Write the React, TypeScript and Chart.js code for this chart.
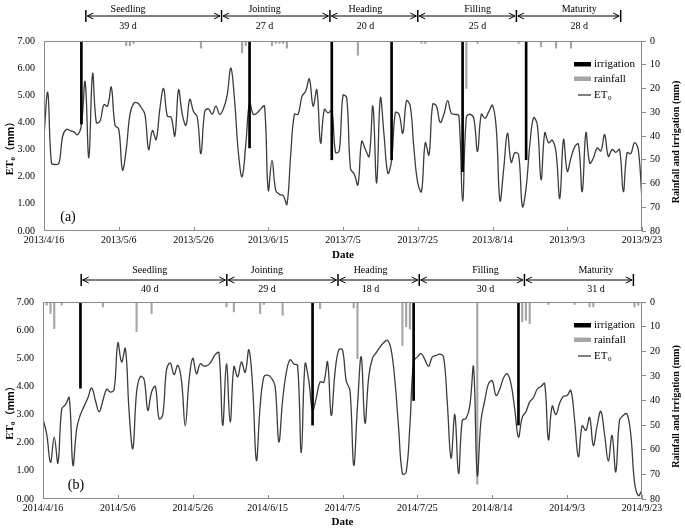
import React, { useEffect, useRef } from "react";
import { Chart, registerables } from "chart.js";

Chart.register(...registerables);

const FONT = "'Liberation Serif', 'Times New Roman', 'DejaVu Serif', 'Noto Sans CJK SC', serif";

// ---------- Panel (a) : 2013 ----------
const dateTicks2013 = ["2013/4/16", "2013/5/6", "2013/5/26", "2013/6/15", "2013/7/5", "2013/7/25", "2013/8/14", "2013/9/3", "2013/9/23"];
const et0_2013 = [
  3.5, 5.1, 2.5, 2.45, 2.5, 3.5, 3.75, 3.7, 3.65, 3.55,
  3.9, 5.5, 2.7, 5.8, 4.0, 4.05, 4.65, 4.6, 5.3, 3.9,
  3.75, 2.25, 3.0, 4.3, 4.7, 4.72, 4.55, 4.3, 3.0, 3.7,
  3.37, 4.5, 5.25, 4.23, 4.2, 3.5, 5.2, 4.3, 3.9, 4.85,
  4.4, 4.2, 2.85, 4.4, 4.5, 4.3, 4.6, 4.3, 4.5, 5.0,
  6.0, 4.8, 2.9, 2.0, 3.2, 4.73, 4.3, 4.35, 4.5, 4.6,
  1.5, 2.6, 1.5, 1.35, 1.3, 0.98, 2.8, 4.3, 4.3, 4.95,
  5.15, 5.6, 4.6, 5.2, 3.24, 4.48, 4.35, 4.45, 2.9, 2.95,
  5.0, 4.9, 2.3, 2.1, 1.7, 3.3, 3.0, 2.75, 4.6, 1.77,
  4.9, 3.5, 2.13, 2.6, 4.36, 4.3, 3.6, 4.8, 4.6, 3.0,
  1.77, 1.45, 3.25, 2.8, 4.67, 4.6, 4.0, 4.3, 4.8, 4.33,
  4.3, 4.25, 1.1, 4.2, 4.3, 4.15, 2.93, 4.3, 4.15, 4.4,
  4.63, 3.8, 1.12, 2.3, 3.6, 2.53, 2.88, 2.8, 0.9, 1.6,
  3.2, 4.17, 3.9, 1.89, 3.62, 3.25, 3.35, 2.9, 1.2, 3.37,
  2.2, 2.7, 3.1, 3.2, 1.45, 3.62, 2.5, 2.69, 3.06, 2.95,
  3.55, 2.75, 3.0, 2.9, 3.0, 1.45, 2.88, 2.85, 3.25, 3.0,
  1.15,
];
const irrigationDay2013 = [10, 55, 77, 93, 112, 129];
const irrigationMm2013 = [35, 45, 50, 50, 55, 50];
const rainDay2013 = [22, 23, 24, 42, 53, 54, 61, 62, 63, 64, 65, 84, 101, 102, 113, 116, 127, 133, 137, 141];
const rainMm2013 = [2, 2, 1, 3, 5, 2, 2, 1, 1, 1, 3, 6, 1, 1, 20, 1, 1, 2.5, 3, 3];
const stageBound2013 = [11.2, 47.5, 76.5, 100, 126.4, 154.3];
const stageLength2013 = ["39 d", "27 d", "20 d", "25 d", "28 d"];
const stageLabelDay2013 = [22.5, 59, 86, 116, 143.2];

// ---------- Panel (b) : 2014 ----------
const dateTicks2014 = ["2014/4/16", "2014/5/6", "2014/5/26", "2014/6/15", "2014/7/5", "2014/7/25", "2014/8/14", "2014/9/3", "2014/9/23"];
const et0_2014 = [
  2.85, 2.3, 1.3, 2.2, 1.28, 3.2, 3.35, 3.6, 1.2, 2.5,
  3.0, 3.3, 3.6, 3.95, 3.5, 3.1, 3.5, 3.9, 3.8, 3.9,
  5.55, 4.87, 5.35, 3.1, 1.79, 3.8, 4.35, 4.25, 3.15, 3.8,
  4.0, 2.85, 3.0, 4.6, 4.83, 4.42, 4.75, 4.2, 2.6, 4.2,
  5.0, 4.45, 4.8, 4.72, 4.75, 4.9, 5.13, 5.2, 2.62, 4.8,
  2.74, 4.7, 4.34, 4.87, 4.5, 5.3, 4.0, 1.37, 3.3, 4.34,
  4.4, 4.3, 4.0, 2.03, 3.5, 4.5, 4.95, 4.8, 4.75, 1.65,
  4.8, 4.2, 3.15, 3.6, 4.16, 4.15, 4.87, 2.97, 4.5, 5.3,
  5.3, 4.2, 3.85, 1.2, 3.3, 5.05, 2.7, 4.34, 5.0, 5.2,
  5.4, 5.55, 5.64, 5.3, 4.2, 2.5, 0.9, 0.95, 2.6, 4.9,
  5.05, 5.17, 4.95, 4.72, 5.05, 5.1, 5.15, 5.05, 3.4, 1.45,
  3.0, 0.9, 2.8, 2.86, 3.3, 4.69, 0.84, 2.8, 3.5, 4.1,
  4.2, 3.68, 3.9, 4.3, 4.45, 4.1, 3.2, 2.2, 2.9, 3.1,
  3.45, 3.6, 3.9, 4.0, 4.1, 2.1, 3.3, 3.0, 3.4, 3.65,
  3.68, 3.86, 2.8, 1.5, 2.6, 2.44, 2.9, 1.9, 2.6, 3.12,
  2.3, 1.35, 2.26, 0.96, 2.8, 2.97, 3.03, 2.3, 0.6, 0.12,
  0.3,
];
const irrigationDay2014 = [10, 72, 99, 127];
const irrigationMm2014 = [35, 50, 40, 50];
const rainDay2014 = [0, 1, 2, 3, 5, 16, 25, 29, 49, 51, 58, 59, 64, 74, 83, 84, 96, 97, 98, 116, 128, 129, 130, 135, 142, 146, 147, 158, 159];
const rainMm2014 = [15.5, 1.3, 4.7, 10.8, 1.3, 2, 12, 4.7, 2, 4, 4.7, 1, 5.4, 2.7, 2.4, 23, 17.6, 10, 11, 74, 8, 7.4, 8.8, 1, 1, 2, 2, 2, 1.3];
const stageBound2014 = [10.2, 49.1, 78.8, 100.5, 128.6, 157.7];
const stageLength2014 = ["40 d", "29 d", "18 d", "30 d", "31 d"];
const stageLabelDay2014 = [28.5, 59.8, 87.5, 118.2, 147.7];

const stageName = ["Seedling", "Jointing", "Heading", "Filling", "Maturity"];

type Panel = {
  tag: string;
  ticks: string[];
  et0: number[];
  irrDay: number[];
  irrMm: number[];
  rainDay: number[];
  rainMm: number[];
  bounds: number[];
  lengths: string[];
  labelDays: number[];
  height: number;
  padTop: number;
  xHeight: number;
  leftW: number;
  datePad: number;
  arrowOff: number;
  countOff: number;
  tagDx: number;
};

const panelA: Panel = {
  tag: "(a)", ticks: dateTicks2013, et0: et0_2013,
  irrDay: irrigationDay2013, irrMm: irrigationMm2013, rainDay: rainDay2013, rainMm: rainMm2013,
  bounds: stageBound2013, lengths: stageLength2013, labelDays: stageLabelDay2013,
  height: 264, padTop: 41, xHeight: 33, leftW: 44, datePad: 2, arrowOff: 25, countOff: 15, tagDx: 24,
};
const panelB: Panel = {
  tag: "(b)", ticks: dateTicks2014, et0: et0_2014,
  irrDay: irrigationDay2014, irrMm: irrigationMm2014, rainDay: rainDay2014, rainMm: rainMm2014,
  bounds: stageBound2014, lengths: stageLength2014, labelDays: stageLabelDay2014,
  height: 265, padTop: 38, xHeight: 30, leftW: 43, datePad: 0, arrowOff: 22, countOff: 12.5, tagDx: 33,
};

const GREY = "#8a8a8a";

function decoPlugin(p: Panel) {
  return {
    id: "deco" + p.tag,
    afterDraw(chart: any) {
      const { ctx, chartArea: a, scales } = chart;
      const xs = scales.x;
      ctx.save();
      // frame
      ctx.strokeStyle = GREY;
      ctx.lineWidth = 1;
      ctx.strokeRect(Math.round(a.left) + 0.5, Math.round(a.top) + 0.5, Math.round(a.right - a.left) - 1, Math.round(a.bottom - a.top) - 1);
      // inward x ticks
      for (const t of xs.ticks) {
        const px = Math.round(xs.getPixelForValue(t.value)) + 0.5;
        ctx.beginPath();
        ctx.moveTo(px, a.bottom);
        ctx.lineTo(px, a.bottom - 4);
        ctx.stroke();
      }
      const midY = (a.top + a.bottom) / 2;
      ctx.fillStyle = "#000";
      ctx.textBaseline = "middle";

      // left axis title ET0 (mm), reads bottom-to-top
      ctx.save();
      ctx.translate(10, midY + 10);
      ctx.rotate(-Math.PI / 2);
      const f1 = `bold 11px ${FONT}`;
      const f2 = `bold 7px ${FONT}`;
      const f3 = `bold 10px 'Noto Sans CJK SC', ${FONT}`;
      ctx.font = f1;
      const wET = ctx.measureText("ET").width;
      ctx.font = f2;
      const w0 = ctx.measureText("0").width;
      ctx.font = f3;
      const wMM = ctx.measureText("（mm）").width;
      let cx = -(wET + w0 + 1 + wMM) / 2;
      ctx.textAlign = "left";
      ctx.font = f1;
      ctx.fillText("ET", cx, 0);
      cx += wET;
      ctx.font = f2;
      ctx.fillText("0", cx, 3);
      cx += w0 + 1;
      ctx.font = f3;
      ctx.fillText("（mm）", cx, 0);
      ctx.restore();

      // right axis title (reads bottom-to-top)
      ctx.font = `bold 10px ${FONT}`;
      ctx.textAlign = "center";
      ctx.save();
      ctx.translate(chart.width - 9, midY + 6);
      ctx.rotate(-Math.PI / 2);
      ctx.fillText("Rainfall and irrigation (mm)", 0, 0);
      ctx.restore();

      // legend
      const sx = a.right - 68;
      const sw = 17;
      const tx = a.right - 48;
      const rows = [
        { kind: "bar", color: "#000", label: "irrigation", dy: 23.5 },
        { kind: "bar", color: "#a6a6a6", label: "rainfall", dy: 38 },
        { kind: "line", color: "#3c3c3c", label: "ET", dy: 54 },
      ];
      ctx.textAlign = "left";
      for (const r of rows) {
        const y = a.top + r.dy;
        if (r.kind === "bar") {
          ctx.fillStyle = r.color;
          ctx.fillRect(sx, y - 2.5, sw, 4.5);
        } else {
          ctx.strokeStyle = r.color;
          ctx.lineWidth = 1.3;
          ctx.beginPath();
          ctx.moveTo(sx + 4, y);
          ctx.lineTo(sx + sw, y);
          ctx.stroke();
        }
        ctx.fillStyle = "#000";
        ctx.font = `11px ${FONT}`;
        ctx.fillText(r.label, tx, y);
        if (r.kind === "line") {
          const w = ctx.measureText(r.label).width;
          ctx.font = `7px ${FONT}`;
          ctx.fillText("0", tx + w + 0.5, y + 3);
        }
      }

      // panel tag
      ctx.font = `14px ${FONT}`;
      ctx.textAlign = "center";
      ctx.fillText(p.tag, a.left + p.tagDx, a.bottom - 14);

      // growth stage annotation
      const bx = p.bounds.map((d) => xs.getPixelForValue(d));
      const ay = a.top - p.arrowOff;
      ctx.strokeStyle = "#000";
      ctx.lineWidth = 1.5;
      for (const px of bx) {
        ctx.beginPath();
        ctx.moveTo(px, ay - 6);
        ctx.lineTo(px, ay + 6);
        ctx.stroke();
      }
      ctx.lineWidth = 1;
      for (let i = 0; i < bx.length - 1; i++) {
        const x0 = bx[i] + 1.5;
        const x1 = bx[i + 1] - 1.5;
        ctx.beginPath();
        ctx.moveTo(x0, ay);
        ctx.lineTo(x1, ay);
        ctx.moveTo(x0 + 6, ay - 3);
        ctx.lineTo(x0, ay);
        ctx.lineTo(x0 + 6, ay + 3);
        ctx.moveTo(x1 - 6, ay - 3);
        ctx.lineTo(x1, ay);
        ctx.lineTo(x1 - 6, ay + 3);
        ctx.stroke();
        const lx = xs.getPixelForValue(p.labelDays[i]);
        ctx.fillStyle = "#000";
        ctx.font = `10px ${FONT}`;
        ctx.textAlign = "center";
        ctx.fillText(stageName[i], lx, a.top - 32);
        ctx.fillText(p.lengths[i], lx, a.top - p.countOff);
      }
      ctx.restore();
    },
  };
}

function buildConfig(p: Panel): any {
  const tickFont = { family: FONT, size: 10 };
  return {
    type: "line",
    data: {
      datasets: [
        {
          type: "bar",
          label: "irrigation",
          data: p.irrDay.map((d, i) => ({ x: d, y: p.irrMm[i] })),
          yAxisID: "y2",
          backgroundColor: "#000",
          barThickness: 2,
          grouped: false,
          order: 0,
        },
        {
          type: "line",
          label: "ET0",
          data: p.et0.map((v, i) => ({ x: i, y: v })),
          yAxisID: "y",
          borderColor: "#3c3c3c",
          borderWidth: 1.3,
          pointRadius: 0,
          tension: 0.4,
          fill: false,
          order: 1,
        },
        {
          type: "bar",
          label: "rainfall",
          data: p.rainDay.map((d, i) => ({ x: d, y: p.rainMm[i] })),
          yAxisID: "y2",
          backgroundColor: "#a6a6a6",
          barThickness: 1.5,
          grouped: false,
          order: 2,
        },
      ],
    },
    options: {
      responsive: false,
      maintainAspectRatio: false,
      animation: false,
      devicePixelRatio: 1,
      layout: { padding: { top: p.padTop, left: 0, right: 0, bottom: 0 } },
      plugins: { legend: { display: false }, tooltip: { enabled: false } },
      scales: {
        x: {
          type: "linear",
          min: 0,
          max: 160,
          offset: false,
          ticks: {
            stepSize: 20,
            autoSkip: false,
            maxRotation: 0,
            padding: 3,
            color: "#000",
            font: tickFont,
            callback: (v: number) => p.ticks[Math.round(v / 20)] ?? "",
          },
          grid: { display: false, drawTicks: false },
          border: { display: false },
          title: {
            display: true,
            text: "Date",
            color: "#000",
            font: { family: FONT, size: 11, weight: "bold" },
            padding: { top: 0, bottom: p.datePad },
          },
          afterFit: (s: any) => {
            s.height = p.xHeight;
          },
        },
        y: {
          position: "left",
          min: 0,
          max: 7,
          ticks: {
            stepSize: 1,
            padding: 9,
            color: "#000",
            font: tickFont,
            callback: (v: number) => Number(v).toFixed(2),
          },
          grid: { display: false, drawTicks: false },
          border: { display: false },
          title: { display: false },
          afterFit: (s: any) => {
            s.width = p.leftW;
          },
        },
        y2: {
          position: "right",
          reverse: true,
          min: 0,
          max: 80,
          ticks: { stepSize: 10, padding: 4, color: "#000", font: tickFont },
          grid: { display: true, drawOnChartArea: false, drawTicks: true, tickLength: 4, color: GREY },
          border: { display: false },
          title: { display: false },
          afterFit: (s: any) => {
            s.width = 43;
          },
        },
      },
    },
    plugins: [decoPlugin(p)],
  };
}

function Panel({ p }: { p: Panel }) {
  const ref = useRef<HTMLCanvasElement | null>(null);
  useEffect(() => {
    if (!ref.current) return;
    const chart = new Chart(ref.current, buildConfig(p));
    return () => chart.destroy();
  }, [p]);
  return <canvas ref={ref} width={685} height={p.height} style={{ display: "block", width: 685, height: p.height }} />;
}

export default function App() {
  return (
    <div style={{ position: "fixed", left: 0, top: 0, width: 685, height: 529, background: "#fff" }}>
      <Panel p={panelA} />
      <Panel p={panelB} />
    </div>
  );
}
